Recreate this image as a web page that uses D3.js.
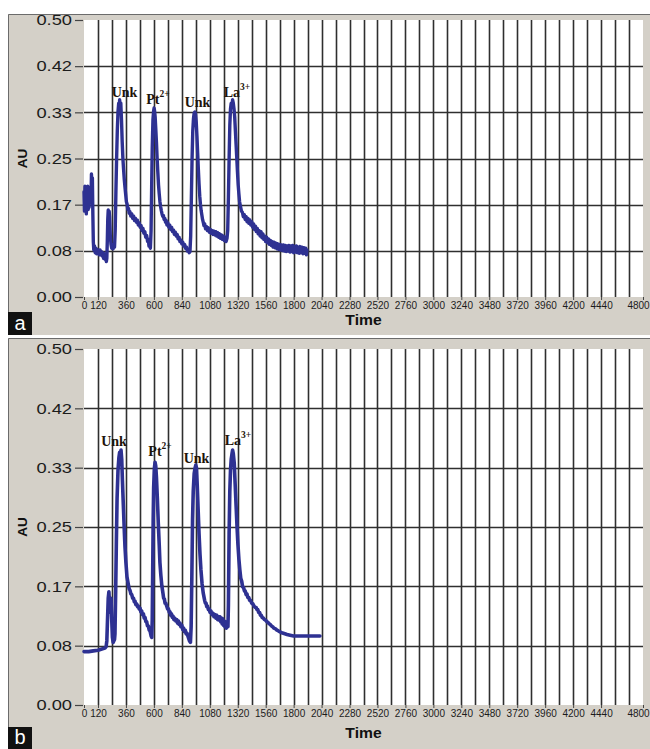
<!DOCTYPE html>
<html>
<head>
<meta charset="utf-8">
<script src="https://cdn.jsdelivr.net/npm/d3@7"></script>
<style>
  body { margin: 0; background: #ffffff; }
  svg { display: block; }
</style>
</head>
<body>
<svg id="fig" width="650" height="749"></svg>
<script>
// Absorbance axis ticks (AU), 0 to 0.5 in twelfths
const auTicks = [0, 1 / 12, 2 / 12, 3 / 12, 4 / 12, 5 / 12, 6 / 12];
// Labelled time ticks
const timeTickLabels = [0, 120, 360, 600, 840, 1080, 1320, 1560, 1800, 2040, 2280, 2520,
  2760, 3000, 3240, 3480, 3720, 3960, 4200, 4440, 4800];
const timeMax = 4800;
const gridStep = 120;

// Trace a: [time, AU]
const traceA = [
  [0,0.19],[4,0.155],[8,0.2],[12,0.16],[16,0.195],[20,0.15],[24,0.19],[28,0.165],[32,0.2],[36,0.158],
  [40,0.185],[44,0.162],[48,0.198],[52,0.17],[56,0.19],[60,0.175],[64,0.222],[68,0.2],[72,0.215],[76,0.15],
  [80,0.1],[84,0.085],[90,0.092],[96,0.08],[102,0.088],[108,0.078],[114,0.086],[120,0.079],[126,0.084],[132,0.076],
  [138,0.085],[144,0.077],[150,0.082],[156,0.074],[162,0.08],[168,0.07],[174,0.078],[180,0.068],[186,0.075],[192,0.064],
  [196,0.07],[200,0.1],[204,0.14],[208,0.157],[212,0.12],[216,0.155],[220,0.145],[226,0.11],[232,0.095],[238,0.088],
  [244,0.092],[250,0.087],[256,0.095],[262,0.09],
  [268,0.12],[274,0.19],[280,0.25],[286,0.3],[292,0.335],[298,0.35],[302,0.34],[306,0.356],[310,0.345],[316,0.35],
  [322,0.32],[328,0.28],[334,0.25],[340,0.23],[346,0.212],[352,0.198],[358,0.185],[364,0.172],[370,0.168],[376,0.158],
  [382,0.16],[388,0.151],[394,0.154],[402,0.146],[410,0.15],[418,0.142],[426,0.146],[434,0.138],[442,0.142],[450,0.135],
  [458,0.139],[466,0.13],[474,0.134],[482,0.126],[490,0.129],[498,0.12],[506,0.124],[514,0.115],[522,0.118],[530,0.108],
  [538,0.111],[546,0.1],[552,0.104],[558,0.092],[564,0.095],[570,0.088],
  [576,0.12],[581,0.2],[586,0.27],[592,0.32],[598,0.336],[602,0.341],[606,0.336],[611,0.325],[616,0.305],[622,0.28],
  [628,0.25],[634,0.225],[640,0.202],[646,0.186],[652,0.172],[658,0.163],[664,0.156],[670,0.15],[676,0.146],[682,0.147],
  [688,0.14],[694,0.142],[700,0.135],[706,0.138],[712,0.13],[720,0.134],[728,0.126],[736,0.13],[744,0.122],[752,0.126],
  [760,0.118],[768,0.121],[776,0.113],[784,0.117],[792,0.11],[800,0.113],[808,0.105],[816,0.108],[824,0.1],[832,0.103],
  [840,0.096],[848,0.099],[856,0.092],[864,0.095],[872,0.088],[880,0.09],[888,0.083],[896,0.086],[904,0.08],[910,0.082],
  [916,0.11],[922,0.18],[928,0.25],[934,0.3],[940,0.322],[946,0.332],[952,0.334],[958,0.33],[964,0.315],[970,0.29],
  [976,0.26],[982,0.23],[988,0.204],[994,0.182],[1000,0.167],[1006,0.156],[1012,0.148],[1018,0.14],[1024,0.135],[1030,0.129],
  [1036,0.132],[1044,0.123],[1052,0.127],[1060,0.12],[1068,0.125],[1076,0.117],[1084,0.122],[1092,0.115],[1100,0.12],[1108,0.113],
  [1116,0.119],[1124,0.112],[1132,0.118],[1140,0.11],[1148,0.116],[1156,0.108],[1164,0.114],[1172,0.106],[1180,0.112],[1188,0.104],
  [1196,0.11],[1204,0.102],[1212,0.108],[1220,0.1],[1228,0.106],
  [1234,0.12],[1240,0.18],[1246,0.25],[1252,0.31],[1258,0.34],[1264,0.35],[1270,0.342],[1276,0.356],[1282,0.35],[1288,0.34],
  [1294,0.325],[1300,0.3],[1306,0.275],[1312,0.25],[1318,0.225],[1324,0.202],[1330,0.186],[1336,0.172],[1344,0.163],[1352,0.155],
  [1360,0.153],[1368,0.145],[1376,0.149],[1384,0.14],[1392,0.145],[1400,0.136],[1408,0.142],[1416,0.133],[1424,0.139],[1432,0.13],
  [1440,0.136],[1448,0.126],[1456,0.132],[1464,0.122],[1472,0.128],[1480,0.118],[1488,0.124],[1496,0.114],[1504,0.12],[1512,0.11],
  [1520,0.118],[1528,0.107],[1536,0.114],[1544,0.104],[1552,0.11],[1560,0.1],[1568,0.108],[1576,0.098],[1584,0.105],[1592,0.095],
  [1600,0.102],[1608,0.093],[1616,0.1],[1624,0.09],[1632,0.099],[1640,0.089],[1648,0.097],[1656,0.087],[1664,0.096],[1672,0.086],
  [1680,0.095],[1688,0.085],[1696,0.094],[1704,0.084],[1712,0.094],[1720,0.083],[1728,0.093],[1736,0.082],[1744,0.092],[1752,0.083],
  [1760,0.093],[1768,0.081],[1776,0.092],[1784,0.082],[1792,0.093],[1800,0.08],[1808,0.091],[1816,0.081],[1824,0.092],[1832,0.08],
  [1840,0.09],[1848,0.079],[1856,0.091],[1864,0.08],[1872,0.09],[1880,0.078],[1888,0.089],[1896,0.079],[1904,0.088],[1910,0.076],
  [1914,0.085]
];

// Trace b: [time, AU]
const traceB = [
  [0,0.075],[40,0.075],[80,0.076],[120,0.077],[160,0.079],[180,0.08],[190,0.082],
  [196,0.09],[202,0.12],[208,0.15],[214,0.159],[220,0.14],[226,0.13],[232,0.15],[238,0.12],[244,0.095],
  [250,0.088],[256,0.09],[262,0.092],
  [266,0.1],[272,0.16],[278,0.23],[284,0.29],[292,0.33],[300,0.348],[306,0.355],[312,0.352],[318,0.358],[324,0.345],
  [330,0.315],[338,0.28],[346,0.245],[352,0.222],[360,0.2],[369,0.18],[380,0.17],[388,0.163],[395,0.161],[403,0.156],
  [410,0.155],[418,0.15],[425,0.15],[432,0.145],[438,0.146],[445,0.141],[452,0.142],[460,0.138],[466,0.139],[474,0.135],
  [481,0.136],[488,0.131],[495,0.132],[502,0.127],[510,0.128],[517,0.122],[524,0.123],[531,0.117],[538,0.117],[545,0.111],
  [552,0.111],[560,0.105],[567,0.104],[576,0.097],[582,0.095],
  [586,0.12],[590,0.19],[594,0.26],[598,0.305],[604,0.332],[610,0.341],[616,0.336],[622,0.32],[630,0.29],[638,0.255],
  [646,0.225],[652,0.2],[660,0.182],[668,0.168],[678,0.157],[684,0.15],[690,0.149],[696,0.143],[702,0.143],[712,0.138],
  [718,0.135],[725,0.135],[732,0.13],[738,0.131],[745,0.126],[751,0.128],[758,0.123],[764,0.125],[772,0.12],[780,0.122],
  [788,0.118],[796,0.12],[803,0.115],[810,0.118],[817,0.113],[824,0.115],[832,0.11],[840,0.112],[848,0.106],[855,0.108],
  [862,0.103],[870,0.105],[877,0.1],[884,0.101],[896,0.095],[906,0.09],[914,0.088],
  [920,0.11],[926,0.18],[932,0.26],[938,0.3],[946,0.325],[954,0.333],[960,0.337],[966,0.333],[972,0.31],[980,0.275],
  [988,0.24],[996,0.212],[1004,0.19],[1014,0.17],[1024,0.157],[1036,0.147],[1042,0.143],[1048,0.143],[1054,0.138],[1060,0.139],
  [1068,0.134],[1075,0.135],[1082,0.13],[1090,0.132],[1098,0.127],[1107,0.129],[1116,0.124],[1125,0.127],[1132,0.122],[1140,0.126],
  [1148,0.12],[1155,0.124],[1161,0.119],[1167,0.124],[1174,0.117],[1180,0.122],[1186,0.114],[1192,0.121],[1198,0.112],[1204,0.118],
  [1210,0.11],[1216,0.117],[1222,0.108],[1230,0.114],[1236,0.11],
  [1240,0.14],[1246,0.24],[1252,0.3],[1258,0.33],[1264,0.345],[1270,0.352],[1276,0.358],[1282,0.353],[1290,0.34],[1298,0.31],
  [1306,0.28],[1314,0.25],[1322,0.225],[1330,0.205],[1338,0.19],[1346,0.178],[1354,0.174],[1362,0.166],[1370,0.165],[1378,0.16],
  [1385,0.16],[1392,0.155],[1399,0.156],[1407,0.151],[1415,0.151],[1422,0.147],[1430,0.147],[1440,0.143],[1450,0.142],[1460,0.139],
  [1470,0.137],[1478,0.137],[1485,0.134],[1492,0.134],[1500,0.13],[1508,0.13],[1515,0.126],[1522,0.126],[1530,0.123],[1540,0.122],
  [1550,0.12],[1560,0.119],[1571,0.117],[1580,0.116],[1590,0.114],[1600,0.113],[1610,0.111],[1620,0.11],[1630,0.108],[1645,0.107],
  [1657,0.105],[1670,0.104],[1680,0.103],[1692,0.102],[1705,0.101],[1725,0.1],[1743,0.099],[1770,0.098],[1800,0.097],[1830,0.097],
  [1860,0.097],[1900,0.097],[1940,0.097],[1980,0.097],[2026,0.097]
];

// Peak annotations: name, charge, label anchor (time, AU)
const peaksA = [
  { name: "Unk", charge: "",   t: 348,  v: 0.361 },
  { name: "Pt",  charge: "2+", t: 635,  v: 0.348 },
  { name: "Unk", charge: "",   t: 975,  v: 0.343 },
  { name: "La",  charge: "3+", t: 1314, v: 0.361 }
];
const peaksB = [
  { name: "Unk", charge: "",   t: 258,  v: 0.364 },
  { name: "Pt",  charge: "2+", t: 653,  v: 0.350 },
  { name: "Unk", charge: "",   t: 966,  v: 0.340 },
  { name: "La",  charge: "3+", t: 1322, v: 0.365 }
];

const svg = d3.select("#fig");
const panelBg = "#d4d0c8";
const traceColor = "#2e3192";
const gridColor = "#2f2f2f";
const sans = "'Liberation Sans', Arial, sans-serif";

function drawPanel(cfg) {
  const g = svg.append("g");
  // panel background with dark top/left edge
  g.append("rect").attr("x", cfg.box.x).attr("y", cfg.box.y)
    .attr("width", cfg.box.w).attr("height", cfg.box.h).attr("fill", panelBg);
  g.append("path")
    .attr("d", `M${cfg.box.x + 0.5},${cfg.box.y + cfg.box.h} V${cfg.box.y + 0.5} H${cfg.box.x + cfg.box.w}`)
    .attr("fill", "none").attr("stroke", "#6b6b6b").attr("stroke-width", 1);

  const x = d3.scaleLinear().domain([0, timeMax]).range([cfg.plot.x0, cfg.plot.x1]);
  const y = d3.scaleLinear().domain([0, 0.5]).range([cfg.plot.y1, cfg.plot.y0]);

  // plotting area
  g.append("rect").attr("x", cfg.plot.x0).attr("y", cfg.plot.y0)
    .attr("width", cfg.plot.x1 - cfg.plot.x0).attr("height", cfg.plot.y1 - cfg.plot.y0)
    .attr("fill", "#ffffff");

  // vertical grid every 120 s
  g.append("g").selectAll("line").data(d3.range(gridStep, timeMax, gridStep)).join("line")
    .attr("x1", d => Math.round(x(d)) + 0.5).attr("x2", d => Math.round(x(d)) + 0.5)
    .attr("y1", cfg.plot.y0).attr("y2", cfg.plot.y1)
    .attr("stroke", gridColor).attr("stroke-width", 1.6);

  // horizontal grid at inner AU ticks
  g.append("g").selectAll("line").data(auTicks.slice(1, -1)).join("line")
    .attr("x1", cfg.plot.x0).attr("x2", cfg.plot.x1)
    .attr("y1", d => Math.round(y(d)) + 0.5).attr("y2", d => Math.round(y(d)) + 0.5)
    .attr("stroke", gridColor).attr("stroke-width", 1.4);

  // Y axis (labels drawn slightly wide)
  const yAxis = d3.axisLeft(y).tickValues(auTicks).tickFormat(d3.format(".2f"))
    .tickSize(8).tickPadding(3);
  const ya = g.append("g").attr("transform", `translate(${cfg.plot.x0 - 1},0)`).call(yAxis);
  ya.select(".domain").remove();
  ya.selectAll(".tick line").attr("stroke", "#444").attr("stroke-width", 1.2);
  ya.selectAll(".tick text").attr("fill", "#1c1c1c")
    .attr("x", -11 / 1.22).attr("transform", "scale(1.22,1)")
    .style("font-family", sans).style("font-size", "15px");

  // X axis
  const xAxis = d3.axisBottom(x).tickValues(timeTickLabels).tickFormat(d3.format("d"))
    .tickSize(3).tickPadding(2);
  const xa = g.append("g").attr("transform", `translate(0,${cfg.plot.y1})`).call(xAxis);
  xa.select(".domain").remove();
  xa.selectAll(".tick line").attr("stroke", "#444");
  xa.selectAll(".tick text").attr("fill", "#1c1c1c")
    .attr("dx", d => d === timeMax ? -5 : 0)
    .style("font-family", sans).style("font-size", "10px");

  // axis titles
  const cx = (cfg.plot.x0 + cfg.plot.x1) / 2;
  g.append("text").attr("transform", `translate(${cx},${cfg.timeTitleY}) scale(1.12,1)`)
    .attr("text-anchor", "middle").attr("fill", "#111")
    .style("font-family", sans).style("font-size", "14px")
    .style("font-weight", "bold").text("Time");
  g.append("text")
    .attr("transform", `translate(${cfg.auTitleX},${(cfg.plot.y0 + cfg.plot.y1) / 2}) rotate(-90)`)
    .attr("text-anchor", "middle").attr("dy", "0.35em").attr("fill", "#111")
    .style("font-family", sans).style("font-size", "13.5px")
    .style("font-weight", "bold").text("AU");

  // trace
  const line = d3.line().x(d => x(d[0])).y(d => y(d[1]));
  g.append("path").datum(cfg.trace).attr("d", line)
    .attr("fill", "none").attr("stroke", traceColor).attr("stroke-width", cfg.lineWidth)
    .attr("stroke-linejoin", "round").attr("stroke-linecap", "round");

  // peak labels
  const lbl = g.append("g").selectAll("text").data(cfg.peaks).join("text")
    .attr("x", d => x(d.t)).attr("y", d => y(d.v))
    .attr("text-anchor", "middle").attr("fill", "#1e140a")
    .style("font-family", "'Liberation Serif', 'Times New Roman', serif")
    .style("font-size", "14px").style("font-weight", "bold");
  lbl.append("tspan").text(d => d.name);
  lbl.filter(d => d.charge).append("tspan").attr("dy", -7).style("font-size", "9.5px")
    .text(d => d.charge);

  // panel letter
  g.append("rect").attr("x", cfg.box.x).attr("y", cfg.letterY)
    .attr("width", 24).attr("height", cfg.box.y + cfg.box.h - cfg.letterY).attr("fill", "#111");
  g.append("text").attr("x", cfg.box.x + 12).attr("y", cfg.box.y + cfg.box.h - 5)
    .attr("text-anchor", "middle").attr("fill", "#ffffff")
    .style("font-family", sans).style("font-size", "20px")
    .text(cfg.letter);
}

drawPanel({
  box: { x: 8, y: 14, w: 642, h: 321 },
  plot: { x0: 84, x1: 643, y0: 20, y1: 297 },
  trace: traceA, peaks: peaksA, letter: "a",
  letterY: 312, timeTitleY: 325, auTitleX: 22, lineWidth: 3.4
});
drawPanel({
  box: { x: 8, y: 338, w: 642, h: 411 },
  plot: { x0: 84, x1: 643, y0: 349, y1: 705 },
  trace: traceB, peaks: peaksB, letter: "b",
  letterY: 727, timeTitleY: 738, auTitleX: 22, lineWidth: 3.6
});
</script>
</body>
</html>
